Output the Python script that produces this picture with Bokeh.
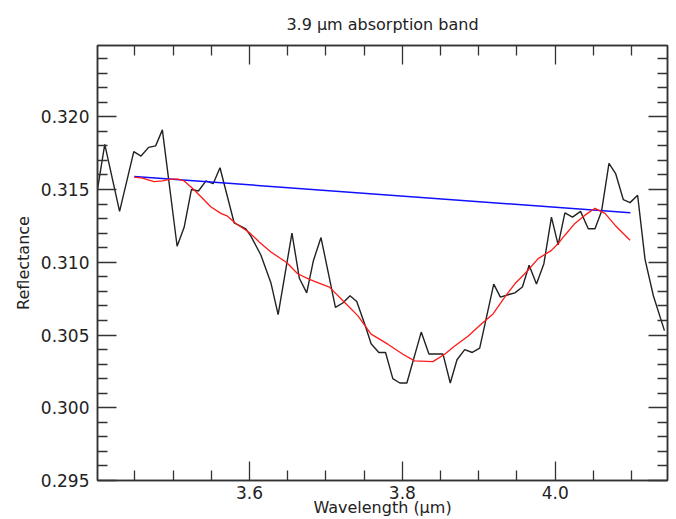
from bokeh.plotting import figure
from bokeh.models import Range1d, FixedTicker, LinearAxis, CustomJSTickFormatter
from bokeh.embed import file_html
from bokeh.resources import INLINE

# measured spectrum (black)
wl = [3.400, 3.4105, 3.4299, 3.4485, 3.4580, 3.4679, 3.4771, 3.4859, 3.5052, 3.5144,
      3.5239, 3.5331, 3.5430, 3.5524, 3.5613, 3.5799, 3.5951, 3.6017, 3.6148, 3.6279,
      3.6374, 3.6555, 3.6652, 3.6748, 3.6835, 3.6935, 3.7124, 3.7220, 3.7315, 3.7403,
      3.7517, 3.7591, 3.7692, 3.7780, 3.7875, 3.7967, 3.8059, 3.8247, 3.8348, 3.8531,
      3.8627, 3.8715, 3.8816, 3.8915, 3.9012, 3.9196, 3.9283, 3.9406, 3.9472, 3.9571,
      3.9659, 3.9755, 3.9852, 3.9951, 4.0039, 4.0127, 4.0227, 4.0332, 4.0433, 4.0521,
      4.0607, 4.0704, 4.0791, 4.0892, 4.0980, 4.1079, 4.1176, 4.1285, 4.1430]
refl = [0.3147, 0.3181, 0.3135, 0.3176, 0.3173, 0.3179, 0.3180, 0.3191, 0.3111, 0.3124,
        0.3150, 0.3149, 0.3156, 0.3154, 0.3165, 0.3127, 0.3123, 0.3118, 0.3105, 0.3086,
        0.3064, 0.3120, 0.3089, 0.3079, 0.3101, 0.3117, 0.3069, 0.3072, 0.3077, 0.3073,
        0.3056, 0.3044, 0.3038, 0.3038, 0.3020, 0.3017, 0.3017, 0.3052, 0.3037, 0.3037,
        0.3017, 0.3033, 0.3040, 0.3038, 0.3041, 0.3085, 0.3076, 0.3078, 0.3079, 0.3083,
        0.3098, 0.3085, 0.3099, 0.3131, 0.3112, 0.3134, 0.3131, 0.3135, 0.3123, 0.3123,
        0.3135, 0.3168, 0.3161, 0.3143, 0.3141, 0.3146, 0.3102, 0.3077, 0.3053]

# smoothed spectrum (red)
wl_smooth = [3.4488, 3.4597, 3.4750, 3.4859, 3.4968, 3.5065, 3.5144, 3.5252, 3.5361, 3.5492,
             3.5624, 3.5711, 3.5820, 3.5996, 3.6127, 3.6279, 3.6489, 3.6630, 3.6783, 3.6935,
             3.7045, 3.7111, 3.7242, 3.7416, 3.7591, 3.7810, 3.8007, 3.8160, 3.8400, 3.8553,
             3.8685, 3.8859, 3.9033, 3.9187, 3.9340, 3.9472, 3.9624, 3.9777, 3.9951, 4.0039,
             4.0127, 4.0258, 4.0390, 4.0521, 4.0652, 4.0783, 4.0980]
refl_smooth = [0.31585, 0.31578, 0.31555, 0.31559, 0.31571, 0.31571, 0.31559, 0.31509, 0.31452, 0.31382,
               0.31336, 0.31317, 0.31267, 0.31205, 0.31140, 0.31071, 0.30997, 0.30921, 0.30882, 0.30852,
               0.30829, 0.30795, 0.30725, 0.30633, 0.30506, 0.30437, 0.30368, 0.30322, 0.30317, 0.30368,
               0.30425, 0.30492, 0.30575, 0.30645, 0.30760, 0.30852, 0.30933, 0.31025, 0.31082, 0.31129,
               0.31186, 0.31267, 0.31324, 0.31371, 0.31336, 0.31255, 0.31151]

# continuum (blue)
wl_cont = [3.4492, 4.0984]
refl_cont = [0.3159, 0.3134]

x_major = [3.6, 3.8, 4.0]
x_minor = [3.45, 3.5, 3.55, 3.65, 3.7, 3.75, 3.85, 3.9, 3.95, 4.05, 4.1]
y_major = [0.295, 0.300, 0.305, 0.310, 0.315, 0.320]
y_minor = [0.296, 0.297, 0.298, 0.299, 0.301, 0.302, 0.303, 0.304, 0.306, 0.307, 0.308, 0.309,
           0.311, 0.312, 0.313, 0.314, 0.316, 0.317, 0.318, 0.319, 0.321, 0.322, 0.323, 0.324]

FONT = "DejaVu Sans"

p = figure(width=676, height=519, x_range=Range1d(3.401, 4.147), y_range=Range1d(0.295, 0.3249),
           output_backend="svg", toolbar_location=None,
           min_border_left=97, min_border_right=9, min_border_top=45, min_border_bottom=39,
           x_axis_label="Wavelength (\u00b5m)", y_axis_label="Reflectance")
p.title.text = "3.9 \u00b5m absorption band"
p.title.align = "center"
p.title.text_font = FONT
p.title.text_font_size = "16px"
p.title.text_font_style = "normal"
p.title.text_color = "#222222"
p.title.standoff = 24

p.xgrid.visible = False
p.ygrid.visible = False
p.outline_line_color = "#333333"
p.outline_line_width = 1.5
p.background_fill_color = "white"
p.border_fill_color = "white"

xt = FixedTicker(ticks=x_major, minor_ticks=x_minor)
yt = FixedTicker(ticks=y_major, minor_ticks=y_minor)

def style(ax, ticker, fmt, show_labels=True):
    ax.ticker = ticker
    ax.major_tick_in = 19
    ax.major_tick_out = 0
    ax.minor_tick_in = 10
    ax.minor_tick_out = 0
    ax.major_tick_line_color = "#333333"
    ax.minor_tick_line_color = "#333333"
    ax.major_tick_line_width = 1.3
    ax.minor_tick_line_width = 1.3
    ax.axis_line_color = "#333333"
    ax.axis_line_width = 1.5
    ax.major_label_text_font = FONT
    ax.major_label_text_font_size = "17px" if show_labels else "0px"
    ax.major_label_text_color = "#222222"
    ax.axis_label_text_font = FONT
    ax.axis_label_text_font_size = "16px"
    ax.axis_label_text_font_style = "normal"
    ax.axis_label_text_color = "#222222"
    ax.formatter = CustomJSTickFormatter(code=fmt)

style(p.xaxis[0], xt, "return tick.toFixed(1);")
style(p.yaxis[0], yt, "return tick.toFixed(3);")
p.xaxis[0].major_label_standoff = 5
p.xaxis[0].axis_label_standoff = -4
p.yaxis[0].major_label_standoff = 8
p.yaxis[0].axis_label_standoff = 5

top = LinearAxis()
style(top, FixedTicker(ticks=x_major, minor_ticks=x_minor), "return '';", show_labels=False)
p.add_layout(top, "above")
right = LinearAxis()
style(right, FixedTicker(ticks=y_major, minor_ticks=y_minor), "return '';", show_labels=False)
p.add_layout(right, "right")

p.line(wl, refl, line_color="#222222", line_width=1.4)
p.line(wl_cont, refl_cont, line_color="#1010ff", line_width=1.5)
p.line(wl_smooth, refl_smooth, line_color="#ff1a1a", line_width=1.3)

open("out.html", "w").write(file_html(p, INLINE))
